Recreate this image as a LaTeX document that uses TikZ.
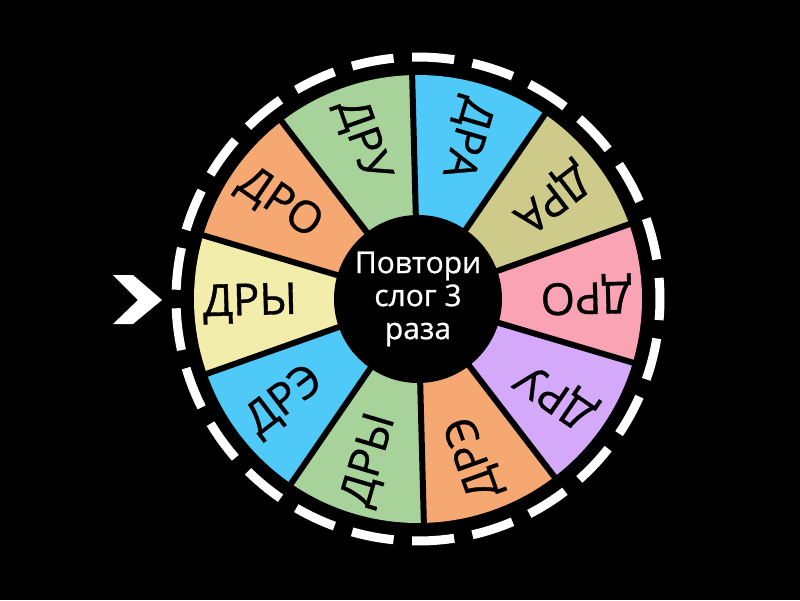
\documentclass[tikz,border=0pt]{standalone}
\usepackage{fontspec}
\setmainfont{Open Sans}
\newfontfamily\labfont[FakeBold=0.8]{Open Sans}
\newfontfamily\hubfont[FakeBold=0.8]{Open Sans}
\definecolor{cgreen}{HTML}{A7D39B}
\definecolor{corange}{HTML}{F5A872}
\definecolor{cyellow}{HTML}{F3EDAC}
\definecolor{cblue}{HTML}{4FC9F8}
\definecolor{cpurple}{HTML}{D4A9FA}
\definecolor{cpink}{HTML}{F9A3B5}
\definecolor{ckhaki}{HTML}{CDCA8A}
\begin{document}
\begin{tikzpicture}[x=1pt,y=1pt,
  seglabel/.style={font=\labfont\fontsize{44}{50}\selectfont, text=black, inner sep=0pt},
  hubtext/.style={font=\hubfont\fontsize{30}{33}\selectfont, text=white, align=center, inner sep=0pt},
  sepline/.style={black, line width=6pt},
  ringdash/.style={white, line width=9pt}]
\fill[black] (-418,-301) rectangle (382,299);
\useasboundingbox (-418,-301) rectangle (382,299);
\def\R{224}
\def\base{91.5}
\foreach \i/\col/\lab in {0/cgreen/ДРУ,1/corange/ДРО,2/cyellow/ДРЫ,3/cblue/ДРЭ,4/cgreen/ДРЫ,5/corange/ДРЭ,6/cpurple/ДРУ,7/cpink/ДРО,8/ckhaki/ДРА,9/cblue/ДРА}{
  \pgfmathsetmacro{\a}{\base+36*\i}
  \pgfmathsetmacro{\c}{\a+18}
  \pgfmathsetmacro{\rot}{\c-180}
  \fill[\col] (0,0) -- (\a:\R) arc[start angle=\a, delta angle=36, radius=\R] -- cycle;
  \node[seglabel, rotate=\rot] (lab\i) at (\c:168) {\lab};
}
\foreach \i in {0,...,9}{
  \pgfmathsetmacro{\a}{\base+36*\i}
  \draw[sepline] (0,0) -- (\a:\R+2);
}
\fill[black] (0,0) circle[radius=84];
\node[hubtext] (hub) at (0,0) {Повтори\\слог 3\\раза};
\foreach \i in {0,...,24}{
  \pgfmathsetmacro{\s}{\i*14.4-5}
  \draw[ringdash] (\s:242) arc[start angle=\s, delta angle=10, radius=242];
}
\fill[white] (-305,24) -- (-285,24) -- (-256,-1) -- (-285,-25) -- (-305,-25) -- (-280,-1) -- cycle;
\end{tikzpicture}
\end{document}
